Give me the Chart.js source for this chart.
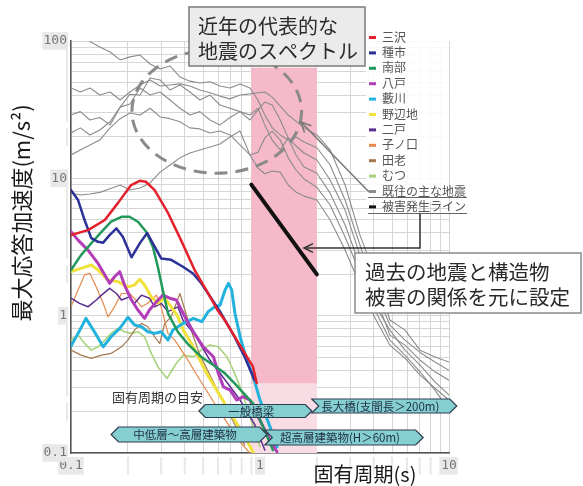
<!DOCTYPE html>
<html>
<head>
<meta charset="utf-8">
<script src="https://cdn.jsdelivr.net/npm/chart.js@4.4.1/dist/chart.umd.min.js"></script>
<style>
  html, body { margin: 0; padding: 0; background: #fff; }
  #wrap { width: 583px; height: 486px; }
</style>
</head>
<body>
<div id="wrap"><canvas id="spec" width="583" height="486"></canvas></div>
<script>
// ---- 観測点ごとの応答スペクトル（周期 s / 最大応答加速度 m/s2）----
const stationNames = ['三沢', '種市', '南部', '八戸', '藪川', '野辺地', '二戸', '子ノ口', '田老', 'むつ'];

const tMisawa = [0.1, 0.123, 0.151, 0.177, 0.208, 0.231, 0.249, 0.277, 0.326, 0.382, 0.451, 0.531, 0.6, 0.65, 0.793, 0.918, 0.96];
const aMisawa = [3.86, 4.2, 4.97, 6.6, 8.93, 9.6, 9.44, 8.2, 5.6, 3.55, 2.15, 1.46, 1.08, 0.93, 0.593, 0.425, 0.323];

const tTaneichi = [0.1, 0.109, 0.118, 0.128, 0.139, 0.148, 0.16, 0.174, 0.188, 0.209, 0.231, 0.253, 0.277, 0.3, 0.339, 0.391, 0.442, 0.489, 0.552, 0.62, 0.676, 0.734, 0.83, 0.935];
const aTaneichi = [8.2, 6.95, 4.97, 3.67, 3.45, 3.4, 3.86, 4.32, 3.76, 2.66, 3.36, 4.0, 3.18, 2.61, 2.55, 2.27, 2.03, 1.72, 1.34, 1.05, 0.855, 0.7, 0.5, 0.34];

const tNanbu = [0.1, 0.113, 0.128, 0.145, 0.163, 0.185, 0.204, 0.226, 0.25, 0.271, 0.288, 0.306, 0.326, 0.368, 0.416, 0.489, 0.576, 0.652, 0.736, 0.918, 1.17];
const aNanbu = [2.15, 2.76, 3.37, 4.08, 4.83, 5.25, 5.25, 4.83, 4.08, 3.18, 2.27, 1.53, 1.04, 0.76, 0.62, 0.5, 0.43, 0.38, 0.32, 0.23, 0.105];

const tHachinohe = [0.1, 0.109, 0.123, 0.139, 0.151, 0.16, 0.17, 0.181, 0.192, 0.209, 0.226, 0.245, 0.26, 0.283, 0.306, 0.333, 0.361, 0.409, 0.444, 0.501, 0.567, 0.602, 0.641, 0.695, 0.752, 0.815, 0.884, 0.958, 1.04, 1.13, 1.23];
const aHachinohe = [4.08, 3.55, 3.0, 2.4, 1.98, 1.72, 1.92, 2.09, 1.67, 1.3, 1.1, 0.955, 1.1, 1.26, 1.41, 1.34, 1.3, 0.93, 0.764, 0.593, 0.502, 0.38, 0.303, 0.287, 0.243, 0.257, 0.243, 0.194, 0.155, 0.124, 0.102];

const tYabukawa = [0.1, 0.109, 0.12, 0.133, 0.148, 0.163, 0.181, 0.2, 0.217, 0.236, 0.255, 0.277, 0.3, 0.326, 0.346, 0.393, 0.444, 0.492, 0.532, 0.577, 0.614, 0.654, 0.681, 0.708, 0.737, 0.785, 0.851, 0.922, 1.0, 1.13, 1.23];
const aYabukawa = [0.601, 0.743, 0.955, 0.764, 0.593, 0.702, 0.809, 0.972, 0.855, 0.83, 0.764, 0.743, 0.764, 0.664, 0.785, 0.879, 0.955, 0.904, 1.07, 1.16, 1.19, 1.54, 1.72, 1.54, 1.04, 0.702, 0.475, 0.359, 0.243, 0.155, 0.111];

const tNohechi = [0.1, 0.113, 0.128, 0.139, 0.157, 0.177, 0.2, 0.217, 0.231, 0.245, 0.266, 0.288, 0.313, 0.339, 0.368, 0.393, 0.444, 0.481, 0.522, 0.59, 0.667, 0.753, 0.851, 0.922];
const aNohechi = [2.09, 2.21, 2.34, 2.15, 1.82, 1.77, 1.62, 1.67, 1.84, 1.67, 1.37, 1.23, 1.34, 1.16, 0.98, 0.785, 0.593, 0.475, 0.38, 0.287, 0.217, 0.164, 0.124, 0.1];

const tNinohe = [0.1, 0.111, 0.123, 0.136, 0.145, 0.16, 0.174, 0.185, 0.204, 0.217, 0.236, 0.26, 0.277, 0.3, 0.326, 0.368, 0.391, 0.453, 0.543, 0.654, 0.785, 0.94, 1.06];
const aNinohe = [1.34, 1.23, 1.16, 1.3, 1.41, 1.58, 1.45, 1.3, 1.37, 1.23, 1.41, 1.34, 1.16, 1.23, 1.07, 1.16, 0.93, 0.723, 0.475, 0.34, 0.243, 0.16, 0.105];

const tNenokuchi = [0.1, 0.109, 0.118, 0.126, 0.136, 0.148, 0.157, 0.17, 0.185, 0.204, 0.221, 0.236, 0.255, 0.283, 0.3, 0.326, 0.354, 0.4, 0.481, 0.614, 0.785, 0.884];
const aNenokuchi = [1.16, 1.54, 1.98, 2.03, 1.62, 1.23, 0.98, 1.16, 1.45, 1.45, 1.3, 1.16, 1.23, 1.41, 1.16, 0.743, 0.664, 0.516, 0.34, 0.199, 0.12, 0.1];

const tTaro = [0.1, 0.113, 0.128, 0.145, 0.163, 0.185, 0.2, 0.217, 0.236, 0.255, 0.277, 0.295, 0.313, 0.339, 0.377, 0.426, 0.481, 0.577, 0.695, 0.83];
const aTaro = [0.561, 0.516, 0.489, 0.516, 0.531, 0.593, 0.664, 0.785, 0.879, 0.83, 0.702, 0.628, 0.879, 0.98, 1.45, 0.83, 0.516, 0.313, 0.189, 0.114];

const tMutsu = [0.1, 0.109, 0.118, 0.128, 0.139, 0.151, 0.163, 0.177, 0.192, 0.209, 0.226, 0.245, 0.266, 0.288, 0.322, 0.361, 0.393, 0.444, 0.501, 0.543, 0.602, 0.667, 0.722, 0.785, 0.851, 0.922, 1.0];
const aMutsu = [0.664, 0.723, 0.628, 0.561, 0.593, 0.664, 0.743, 0.809, 0.764, 0.743, 0.764, 0.702, 0.531, 0.425, 0.349, 0.45, 0.516, 0.502, 0.578, 0.611, 0.593, 0.502, 0.402, 0.303, 0.217, 0.155, 0.111];

const stationPeriods = [tMisawa, tTaneichi, tNanbu, tHachinohe, tYabukawa, tNohechi, tNinohe, tNenokuchi, tTaro, tMutsu];
const stationAccel   = [aMisawa, aTaneichi, aNanbu, aHachinohe, aYabukawa, aNohechi, aNinohe, aNenokuchi, aTaro, aMutsu];

// ---- 既往の主な地震（共通の周期軸）----
const pastPeriods = [0.1, 0.112, 0.126, 0.142, 0.161, 0.182, 0.205, 0.232, 0.262, 0.296, 0.334, 0.377, 0.426, 0.481, 0.544, 0.614, 0.694, 0.784, 0.885, 0.976, 1.06, 1.16, 1.28, 1.41, 1.55, 1.71, 2.0, 2.35, 2.82, 3.38, 4.06, 4.87, 5.85, 7.03, 8.43, 10];
const past1 = [null, null, 99, 90.4, 83.2, 72.8, 76.6, 79, 68, 62.5, 65.7, 54.7, 51, 49.5, 50.5, 47, 45.5, 48.7, 45.5, 37.2, 28.9, 23.4, 20.7, 19.0, 20.0, 18.4, 16.7, 12.5, 6.95, 3.27, 1.54, 0.854, 0.664, 0.54, 0.46, 0.40];
const past2 = [45.5, 42.5, 45.5, 40.4, 42.5, 37.2, 42.5, 47.8, 52, 47, 47.8, 48.7, 47, 44, 42, 39.7, 37.9, 40.4, 41.2, 42, 42.5, 39, 33.6, 28.9, 26.1, 23.4, 20.7, 16.1, 8.94, 3.86, 1.98, 0.93, 0.785, 0.561, 0.50, 0.46];
const past3 = [28.9, 30.6, 26.6, 27.7, 24.5, 33, 41, 40.4, 53.8, 52, 44, 47.8, 42.5, 37.2, 40.4, 34.2, 32.4, 30.6, 28.9, 32.4, 24.5, 19.0, 16.1, 19.7, 17.2, 15.3, 13.6, 9.73, 5.87, 2.76, 1.41, 0.722, 0.61, 0.474, 0.39, 0.339];
const past4 = [21.4, 23.3, 20.7, 22.5, 25.8, 33, 34.8, 45.5, 40.4, 42.5, 37.2, 32.4, 28.9, 30.6, 26.6, 24.5, 27.7, 30.6, 26.6, 31.5, 35.9, 34.2, 26.6, 19.7, 14.8, 12.1, 10.9, 7.8, 4.57, 2.34, 1.19, 0.785, 0.561, 0.436, 0.33, 0.264];
const past5 = [14.8, 16.1, 17.5, 19.0, 23.3, 27.2, 29.9, 28.9, 32.4, 28, 27.2, 25.8, 23.3, 22.9, 21.4, 22.1, 20.7, 17.5, 14.8, 15.5, 19.7, 22.1, 19.0, 14.1, 11.5, 9.9, 8.6, 6.39, 3.74, 2.06, 1.10, 0.664, 0.516, 0.39, 0.287, 0.205];
const past6 = [7.8, 7.56, 7.7, 7.9, 8.4, 8.94, 8.22, 8.5, 9.25, 11.1, 12.5, 14.1, 15.3, 16.1, 16.9, 17.8, 20, 22.1, 14.8, 11.9, 10.8, 11.3, 11.1, 8.94, 7.94, 7.42, 6.95, 4.97, 3.01, 1.67, 0.96, 0.61, 0.49, 0.369, 0.296, 0.243];
const pastAccel = [past1, past2, past3, past4, past5, past6];

// ---- 被害発生ライン ----
const damagePeriods = [0.9, 2.0];
const damageAccel   = [9, 2];

// ---- 注記（帯・楕円・固有周期の目安）----
const bandPeriods  = [0.9, 2.0];
const bandAccel    = [0.32, 64];
const recentPeriods = [0.21, 1.66];
const recentAccel   = [10.9, 87];
const guideNames = ['中低層～高層建築物', '一般橋梁', '長大橋(支間長＞200m)', '超高層建築物(H＞60m)'];
const guideFrom  = [0.163, 0.475, 1.88, 1.06];
const guideTo    = [1.09, 1.88, 11, 7.3];

const stationColors = ['#e3202c', '#2b3196', '#22995a', '#b23db8', '#22b2de', '#f0e23a', '#5b2d91', '#e58a4e', '#a3784e', '#a9d27c'];
const stationWidths = [2.5, 2.5, 2.5, 3, 3, 3, 1.5, 1.2, 1.2, 1.6];
const JP = "'Noto Sans CJK JP', 'Noto Sans', sans-serif";

function toPoints(ts, vs) {
  return ts.map((t, i) => ({ x: t, y: vs[i] })).filter(p => p.y !== null);
}

const datasets = [];
pastAccel.forEach((vals, i) => {
  datasets.push({
    label: '既往の主な地震', data: toPoints(pastPeriods, vals),
    borderColor: '#8c8c8c', borderWidth: 1.1, order: 3
  });
});
stationNames.forEach((name, i) => {
  datasets.push({
    label: name, data: toPoints(stationPeriods[i], stationAccel[i]),
    borderColor: stationColors[i], borderWidth: stationWidths[i],
    order: stationWidths[i] < 2 ? 2 : 1
  });
});
datasets.push({
  label: '被害発生ライン', data: toPoints(damagePeriods, damageAccel),
  borderColor: '#111', borderWidth: 4, order: 0
});

// 凡例（グラフ内右上）
const legendItems = stationNames.map((n, i) => [n, stationColors[i]])
  .concat([['既往の主な地震', '#8c8c8c'], ['被害発生ライン', '#111']]);

function logGrid(lo, hi) {
  const out = [];
  for (let e = lo; e < hi; e++) {
    for (let m = 1; m < 10; m++) out.push(+(m * Math.pow(10, e)).toPrecision(3));
  }
  out.push(Math.pow(10, hi));
  return out;
}
const decadeLabel = v => {
  const e = Math.log10(v);
  return Math.abs(e - Math.round(e)) < 1e-9 ? String(v) : '';
};

function arrowHead(ctx, tx, ty, fx, fy, size) {
  const ang = Math.atan2(ty - fy, tx - fx);
  ctx.beginPath();
  ctx.moveTo(tx - size * Math.cos(ang - 0.45), ty - size * Math.sin(ang - 0.45));
  ctx.lineTo(tx, ty);
  ctx.lineTo(tx - size * Math.cos(ang + 0.45), ty - size * Math.sin(ang + 0.45));
  ctx.stroke();
}

function guideShape(ctx, xl, xr, yc, h, notched, text) {
  const d = h;
  ctx.beginPath();
  if (notched) {
    ctx.moveTo(xl, yc - h); ctx.lineTo(xl + d, yc); ctx.lineTo(xl, yc + h);
  } else {
    ctx.moveTo(xl + d, yc - h); ctx.lineTo(xl, yc); ctx.lineTo(xl + d, yc + h);
  }
  ctx.lineTo(xr - d, yc + h); ctx.lineTo(xr, yc); ctx.lineTo(xr - d, yc - h);
  ctx.closePath();
  ctx.fillStyle = '#86cfd0';
  ctx.fill();
  ctx.strokeStyle = '#2c3e50';
  ctx.lineWidth = 1.2;
  ctx.stroke();
  ctx.fillStyle = '#1e2e46';
  ctx.font = '11.5px ' + JP;
  ctx.textAlign = 'center';
  ctx.textBaseline = 'middle';
  ctx.fillText(text, (xl + xr) / 2 - 4, yc + 0.5);
}

const overlay = {
  id: 'overlay',
  beforeDatasetsDraw(chart) {
    const { ctx, chartArea: a, scales: { x, y } } = chart;
    const x0 = x.getPixelForValue(bandPeriods[0]);
    const x1 = x.getPixelForValue(bandPeriods[1]);
    const yTop = y.getPixelForValue(bandAccel[1]);
    const ySplit = y.getPixelForValue(bandAccel[0]);
    ctx.save();
    ctx.fillStyle = '#f5b9c9';
    ctx.fillRect(x0, yTop, x1 - x0, ySplit - yTop);
    ctx.fillStyle = '#f9dde5';
    ctx.fillRect(x0, ySplit, x1 - x0, a.bottom - ySplit);
    ctx.restore();
  },
  afterDatasetsDraw(chart) {
    const { ctx, scales: { x, y } } = chart;
    ctx.save();

    // 近年の代表的な地震 — 破線の楕円
    const ex0 = x.getPixelForValue(recentPeriods[0]), ex1 = x.getPixelForValue(recentPeriods[1]);
    const ey0 = y.getPixelForValue(recentAccel[1]), ey1 = y.getPixelForValue(recentAccel[0]);
    ctx.setLineDash([13, 8]);
    ctx.lineWidth = 3;
    ctx.strokeStyle = '#8a8a8a';
    ctx.beginPath();
    ctx.ellipse((ex0 + ex1) / 2, (ey0 + ey1) / 2, (ex1 - ex0) / 2, (ey1 - ey0) / 2, 0, 0, Math.PI * 2);
    ctx.stroke();
    ctx.setLineDash([]);

    // 吹き出し 1
    ctx.fillStyle = '#ebebeb';
    ctx.strokeStyle = '#7a7a7a';
    ctx.lineWidth = 1.5;
    ctx.fillRect(189, 7, 176, 59);
    ctx.strokeRect(189, 7, 176, 59);
    ctx.fillStyle = '#2a2a2a';
    ctx.font = '20px ' + JP;
    ctx.textAlign = 'left';
    ctx.textBaseline = 'middle';
    ctx.fillText('近年の代表的な', 198, 26);
    ctx.fillText('地震のスペクトル', 198, 51);

    // 凡例
    ctx.fillStyle = 'rgba(255,255,255,0.88)';
    ctx.fillRect(366, 30, 83, 172);
    ctx.font = '12px ' + JP;
    legendItems.forEach(([name, col], i) => {
      const yy = 37 + i * 15.4;
      ctx.fillStyle = col;
      ctx.fillRect(369, yy - 1, 7, 3);
      ctx.fillStyle = '#555';
      ctx.fillText(name, 382, yy);
    });

    // 下線と矢印
    ctx.strokeStyle = '#666';
    ctx.lineWidth = 1.2;
    ctx.beginPath();
    ctx.moveTo(368, 197.5); ctx.lineTo(467, 197.5);
    ctx.moveTo(368, 213.5); ctx.lineTo(467, 213.5);
    ctx.stroke();
    ctx.strokeStyle = '#777';
    ctx.lineWidth = 1.5;
    ctx.beginPath();
    ctx.moveTo(369, 192); ctx.lineTo(301, 122);
    ctx.stroke();
    arrowHead(ctx, 301, 122, 369, 192, 11);
    ctx.strokeStyle = '#333';
    ctx.beginPath();
    ctx.moveTo(420, 213.5); ctx.lineTo(420, 248); ctx.lineTo(304, 248);
    ctx.stroke();
    arrowHead(ctx, 304, 248, 420, 248, 10);

    // 吹き出し 2
    ctx.fillStyle = '#fff';
    ctx.strokeStyle = '#8a8a8a';
    ctx.lineWidth = 1.5;
    ctx.fillRect(355, 253, 226, 60);
    ctx.strokeRect(355, 253, 226, 60);
    ctx.fillStyle = '#2a2a2a';
    ctx.font = '20.5px ' + JP;
    ctx.fillText('過去の地震と構造物', 365, 272);
    ctx.fillText('被害の関係を元に設定', 365, 297);

    // 固有周期の目安
    ctx.fillStyle = '#333';
    ctx.font = '13px ' + JP;
    ctx.fillText('固有周期の目安', 112, 397);
    const rows = [[434.5, 7.5, false], [411, 6.5, false], [406, 7, true], [437.5, 7.5, true]];
    guideNames.forEach((g, i) => {
      const [yc, h, notched] = rows[i];
      guideShape(ctx, x.getPixelForValue(guideFrom[i]), x.getPixelForValue(guideTo[i]), yc, h, notched, g);
    });

    // 軸タイトル
    ctx.fillStyle = '#1a1a1a';
    ctx.textAlign = 'center';
    ctx.textBaseline = 'middle';
    ctx.font = '20px ' + JP;
    ctx.fillText('固有周期(s)', 365, 474);
    ctx.translate(22, 213);
    ctx.rotate(-Math.PI / 2);
    ctx.font = '22px ' + JP;
    ctx.fillText('最大応答加速度(m/s²)', 0, 0);
    ctx.restore();
  }
};

const tickFont = { family: "'DejaVu Sans Mono', monospace", size: 13 };

new Chart(document.getElementById('spec').getContext('2d'), {
  type: 'scatter',
  data: { datasets },
  options: {
    responsive: false,
    animation: false,
    showLine: true,
    layout: { padding: { left: 0, right: 134, top: 41, bottom: 0 } },
    elements: {
      point: { radius: 0, hoverRadius: 0 },
      line: { tension: 0, borderJoinStyle: 'round', borderCapStyle: 'round', fill: false }
    },
    plugins: { legend: { display: false }, tooltip: { enabled: false } },
    scales: {
      x: {
        type: 'logarithmic', min: 0.1, max: 10,
        afterFit: s => { s.height = 33; },
        afterBuildTicks: s => { s.ticks = logGrid(-1, 1).map(v => ({ value: v })); },
        grid: { color: '#d6d6d6', drawTicks: false },
        border: { color: '#555', width: 1.5 },
        ticks: {
          callback: decadeLabel, autoSkip: false, maxRotation: 0, padding: 5,
          color: '#777', font: tickFont,
          showLabelBackdrop: true, backdropColor: '#e8e8e8', backdropPadding: 1
        }
      },
      y: {
        type: 'logarithmic', min: 0.1, max: 100,
        afterFit: s => { s.width = 71; },
        afterBuildTicks: s => { s.ticks = logGrid(-1, 2).map(v => ({ value: v })); },
        grid: { color: '#d6d6d6', drawTicks: false },
        border: { color: '#555', width: 1.5 },
        ticks: {
          callback: decadeLabel, autoSkip: false, padding: 4,
          color: '#777', font: tickFont,
          showLabelBackdrop: true, backdropColor: '#e8e8e8', backdropPadding: 1
        }
      }
    }
  },
  plugins: [overlay]
});
</script>
</body>
</html>
